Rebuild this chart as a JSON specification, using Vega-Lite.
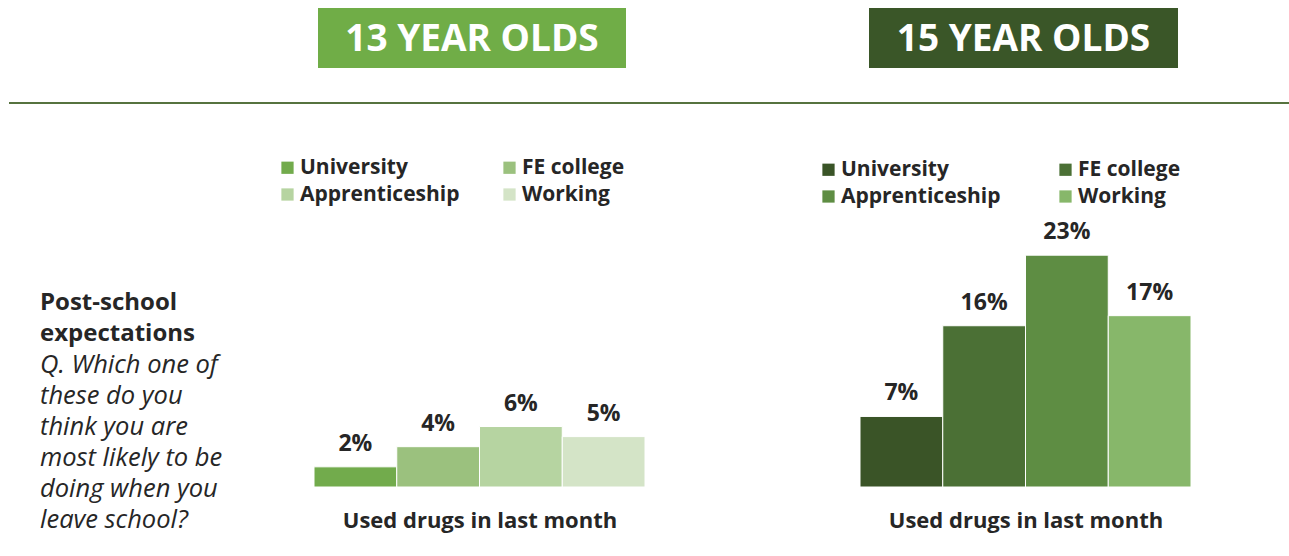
{
  "$schema": "https://vega.github.io/schema/vega-lite/v6.json",
  "background": "white",
  "padding": 0,
  "spacing": 0,
  "bounds": "full",
  "config": {"view": {"stroke": null}, "font": "Open Sans"},
  "resolve": {"scale": {"color": "independent"}, "legend": {"color": "independent"}},
  "datasets": {
    "age13": [
      {"expectation": "University", "share": 0.02},
      {"expectation": "FE college", "share": 0.04},
      {"expectation": "Apprenticeship", "share": 0.06},
      {"expectation": "Working", "share": 0.05}
    ],
    "age15": [
      {"expectation": "University", "share": 0.07},
      {"expectation": "FE college", "share": 0.16},
      {"expectation": "Apprenticeship", "share": 0.23},
      {"expectation": "Working", "share": 0.17}
    ],
    "none": []
  },
  "vconcat": [
    {"width": 10, "height": 8, "data": {"name": "none"}, "mark": "point"},
    {
      "spacing": 0, "bounds": "flush",
      "hconcat": [
        {"width": 318, "height": 60, "data": {"name": "none"}, "mark": "point"},
        {"width": 308, "height": 60, "view": {"fill": "#70AD47", "stroke": null},
         "data": {"values": [{"label": "13 YEAR OLDS"}]},
         "mark": {"type": "text", "font": "Open Sans", "fontWeight": "bold", "fontSize": 37, "color": "white", "align": "center", "baseline": "middle", "dy": 2},
         "encoding": {"text": {"field": "label"}}},
        {"width": 243, "height": 60, "data": {"name": "none"}, "mark": "point"},
        {"width": 309, "height": 60, "view": {"fill": "#3A5628", "stroke": null},
         "data": {"values": [{"label": "15 YEAR OLDS"}]},
         "mark": {"type": "text", "font": "Open Sans", "fontWeight": "bold", "fontSize": 37, "color": "white", "align": "center", "baseline": "middle", "dy": 2},
         "encoding": {"text": {"field": "label"}}}
      ]
    },
    {"width": 10, "height": 34, "data": {"name": "none"}, "mark": "point"},
    {
      "spacing": 0, "bounds": "flush",
      "hconcat": [
        {"width": 9, "height": 2, "data": {"name": "none"}, "mark": "point"},
        {"width": 1280, "height": 2, "view": {"fill": "#56733F", "stroke": null}, "data": {"name": "none"}, "mark": "point"}
      ]
    },
    {
      "spacing": 0, "bounds": "flush",
      "resolve": {"scale": {"color": "independent"}, "legend": {"color": "independent"}},
      "hconcat": [
        {"width": 40, "height": 181, "data": {"name": "none"}, "mark": "point"},
        {"width": 274, "height": 181, "data": {"name": "none"}, "mark": "point",
         "title": {"text": ["Post-school", "expectations"],
                   "subtitle": ["Q. Which one of", "these do you", "think you are", "most likely to be", "doing when you", "leave school?"],
                   "orient": "bottom", "anchor": "start", "frame": "group", "align": "left", "offset": 6,
                   "font": "Open Sans", "fontSize": 24, "fontWeight": "bold", "lineHeight": 31, "color": "#262626",
                   "subtitleFont": "Open Sans", "subtitleFontSize": 25.5, "subtitleFontStyle": "italic", "subtitleFontWeight": "normal",
                   "subtitleLineHeight": 31, "subtitleColor": "#262626", "subtitlePadding": 7}},
        {
          "width": 331, "height": 383,
          "data": {"name": "age13"},
          "encoding": {
            "x": {"field": "expectation", "type": "nominal", "sort": ["University", "FE college", "Apprenticeship", "Working"],
                  "scale": {"paddingInner": 0, "paddingOuter": 0},
                  "axis": {"title": "Used drugs in last month", "labels": false, "ticks": false, "domain": false, "grid": false,
                           "titleFont": "Open Sans", "titleFontSize": 22, "titleFontWeight": "bold", "titleColor": "#262626", "titlePadding": 23}},
            "y": {"field": "share", "type": "quantitative", "scale": {"domain": [0, 0.38]}, "axis": null}
          },
          "layer": [
            {"mark": {"type": "bar", "stroke": "white", "strokeWidth": 1},
             "encoding": {"color": {"field": "expectation", "type": "nominal",
               "scale": {"domain": ["University", "FE college", "Apprenticeship", "Working"], "range": ["#72AB4C", "#9BC17E", "#B6D4A1", "#D4E4C7"]},
               "legend": {"orient": "none", "legendX": -37, "legendY": 53, "direction": "horizontal", "columns": 2, "title": null, "padding": 0,
                          "symbolType": "square", "symbolSize": 150, "symbolStrokeWidth": 0, "symbolOpacity": 1,
                          "labelFont": "Open Sans", "labelFontSize": 21, "labelFontWeight": "bold", "labelColor": "#262626",
                          "labelOffset": 2, "labelLimit": 300, "columnPadding": 39, "rowPadding": 5}}}},
            {"mark": {"type": "text", "baseline": "bottom", "dy": -11, "font": "Open Sans", "fontWeight": "bold", "fontSize": 23, "color": "#262626"},
             "encoding": {"text": {"field": "share", "type": "quantitative", "format": ".0%"}}}
          ]
        },
        {"width": 215, "height": 383, "data": {"name": "none"}, "mark": "point"},
        {
          "width": 331, "height": 383,
          "data": {"name": "age15"},
          "encoding": {
            "x": {"field": "expectation", "type": "nominal", "sort": ["University", "FE college", "Apprenticeship", "Working"],
                  "scale": {"paddingInner": 0, "paddingOuter": 0},
                  "axis": {"title": "Used drugs in last month", "labels": false, "ticks": false, "domain": false, "grid": false,
                           "titleFont": "Open Sans", "titleFontSize": 22, "titleFontWeight": "bold", "titleColor": "#262626", "titlePadding": 23}},
            "y": {"field": "share", "type": "quantitative", "scale": {"domain": [0, 0.38]}, "axis": null}
          },
          "layer": [
            {"mark": {"type": "bar", "stroke": "white", "strokeWidth": 1},
             "encoding": {"color": {"field": "expectation", "type": "nominal",
               "scale": {"domain": ["University", "FE college", "Apprenticeship", "Working"], "range": ["#3A5427", "#4B7035", "#5E8D43", "#87B76A"]},
               "legend": {"orient": "none", "legendX": -42, "legendY": 55, "direction": "horizontal", "columns": 2, "title": null, "padding": 0,
                          "symbolType": "square", "symbolSize": 150, "symbolStrokeWidth": 0, "symbolOpacity": 1,
                          "labelFont": "Open Sans", "labelFontSize": 21, "labelFontWeight": "bold", "labelColor": "#262626",
                          "labelOffset": 2, "labelLimit": 300, "columnPadding": 54, "rowPadding": 5}}}},
            {"mark": {"type": "text", "baseline": "bottom", "dy": -11, "font": "Open Sans", "fontWeight": "bold", "fontSize": 23, "color": "#262626"},
             "encoding": {"text": {"field": "share", "type": "quantitative", "format": ".0%"}}}
          ]
        }
      ]
    }
  ]
}
